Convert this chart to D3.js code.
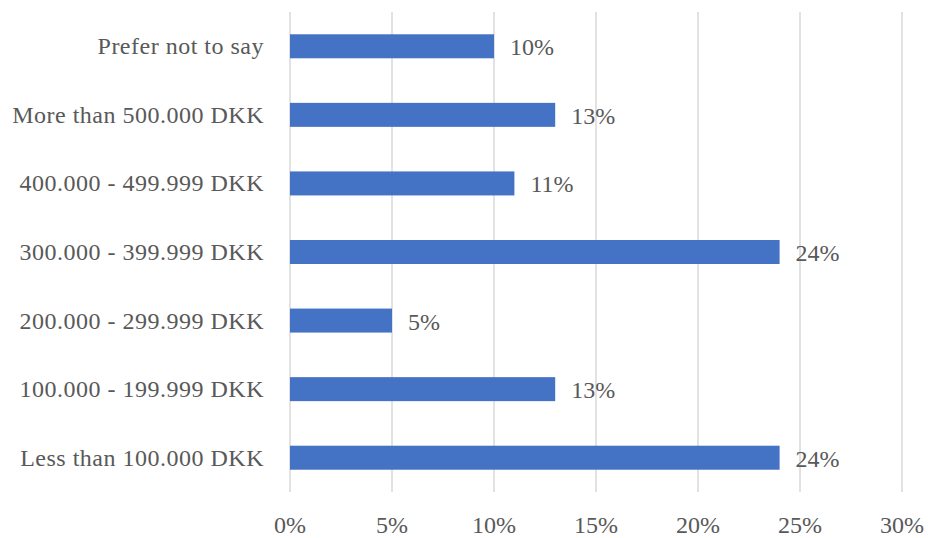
<!DOCTYPE html>
<html>
<head>
<meta charset="utf-8">
<script src="https://cdn.jsdelivr.net/npm/d3@7"></script>
<style>
  html, body { margin: 0; padding: 0; background: #fff; }
  svg text { font-family: "Liberation Serif", "DejaVu Serif", serif; fill: #595959; }
</style>
</head>
<body>
<svg id="chart" width="928" height="538"></svg>
<script>
// Income brackets, listed top to bottom
const categories = [
  "Prefer not to say",
  "More than 500.000 DKK",
  "400.000 - 499.999 DKK",
  "300.000 - 399.999 DKK",
  "200.000 - 299.999 DKK",
  "100.000 - 199.999 DKK",
  "Less than 100.000 DKK"
];
// Share of respondents (%)
const shares = [10, 13, 11, 24, 5, 13, 24];
// Axis ticks (%)
const xTicks = [0, 5, 10, 15, 20, 25, 30];

const svg = d3.select("#chart");
const fontSize = 24;

const x = d3.scaleLinear().domain([0, 30]).range([290, 902]);
const y = d3.scaleBand().domain(categories).range([12, 492]).paddingInner(0.65).paddingOuter(0.325);

// vertical gridlines
svg.append("g").selectAll("line").data(xTicks).join("line")
  .attr("x1", d => x(d)).attr("x2", d => x(d))
  .attr("y1", 12).attr("y2", 492)
  .attr("stroke", "#d9d9d9").attr("stroke-width", 1.5);

// bars
svg.append("g").selectAll("rect").data(categories).join("rect")
  .attr("x", x(0))
  .attr("y", d => y(d))
  .attr("width", (d, i) => x(shares[i]) - x(0))
  .attr("height", y.bandwidth())
  .attr("fill", "#4472C4");

// value labels
svg.append("g").selectAll("text").data(categories).join("text")
  .attr("x", (d, i) => x(shares[i]) + 16)
  .attr("y", d => y(d) + y.bandwidth() / 2 + 1)
  .attr("dominant-baseline", "central")
  .attr("font-size", fontSize)
  .text((d, i) => shares[i] + "%");

// category labels
svg.append("g").selectAll("text").data(categories).join("text")
  .attr("x", 264)
  .attr("y", d => y(d) + y.bandwidth() / 2)
  .attr("text-anchor", "end")
  .attr("dominant-baseline", "central")
  .attr("font-size", fontSize)
  .attr("letter-spacing", 0.5)
  .text(d => d);

// x tick labels
svg.append("g").selectAll("text").data(xTicks).join("text")
  .attr("x", d => x(d))
  .attr("y", 525)
  .attr("text-anchor", "middle")
  .attr("dominant-baseline", "central")
  .attr("font-size", fontSize)
  .text(d => d + "%");
</script>
</body>
</html>
